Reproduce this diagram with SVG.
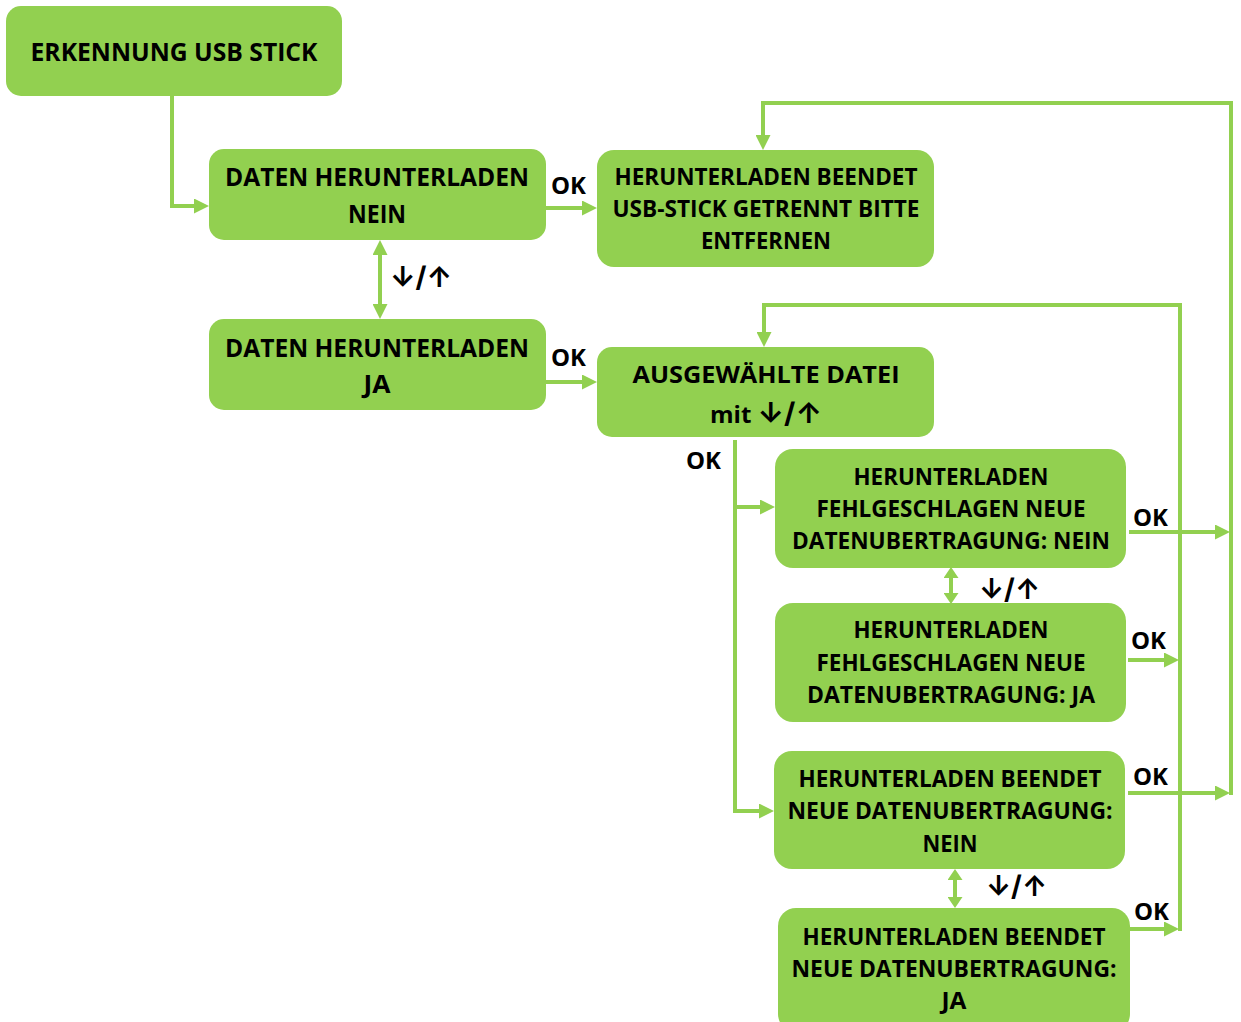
<svg xmlns="http://www.w3.org/2000/svg" width="1241" height="1022" viewBox="0 0 1241 1022">
<style>
.n{fill:#92D050}
.t{font-family:"Open Sans",Lato,"DejaVu Sans",sans-serif;font-weight:700;fill:#000;text-anchor:middle}
.b{font-size:25px}
.m{font-size:23px}
.ok{font-family:"Open Sans",Lato,sans-serif;font-weight:700;font-size:24px;fill:#000}
.ar{font-family:Inter,"DejaVu Sans",sans-serif;font-weight:700;font-size:28px;fill:#000}
.g{font-family:Inter,"DejaVu Sans",sans-serif;font-weight:700}
.c{fill:none;stroke:#92D050;stroke-width:4;stroke-linejoin:miter}
</style>
<defs>
<marker id="a" viewBox="0 0 15 15" refX="11" refY="7.5" markerWidth="15" markerHeight="15" markerUnits="userSpaceOnUse" orient="auto-start-reverse"><path d="M0,0L15,7.5L0,15z" fill="#92D050"/></marker>
<marker id="s" viewBox="0 0 11 15" refX="7" refY="7.5" markerWidth="11" markerHeight="15" markerUnits="userSpaceOnUse" orient="auto-start-reverse"><path d="M0,0L11,7.5L0,15z" fill="#92D050"/></marker>
</defs>
<rect width="1241" height="1022" fill="#fff"/>
<g id="connectors">
<path class="c" d="M172,96V206H205" marker-end="url(#a)"/>
<path class="c" d="M546,208H593" marker-end="url(#a)"/>
<path class="c" d="M380,244V315" marker-start="url(#a)" marker-end="url(#a)"/>
<path class="c" d="M546,382H593" marker-end="url(#a)"/>
<path class="c" d="M1231,795V103H763V146" marker-end="url(#a)"/>
<path class="c" d="M1129,532H1226" marker-end="url(#a)"/>
<path class="c" d="M1128,793H1226" marker-end="url(#a)"/>
<path class="c" d="M1180,931V305H764V343" marker-end="url(#a)"/>
<path class="c" d="M1128,660H1175" marker-end="url(#a)"/>
<path class="c" d="M1130,929H1175" marker-end="url(#a)"/>
<path class="c" d="M735,440V811H770" marker-end="url(#a)"/>
<path class="c" d="M735,507H771" marker-end="url(#a)"/>
<path class="c" d="M951,571V600" marker-start="url(#s)" marker-end="url(#s)"/>
<path class="c" d="M955,873V904" marker-start="url(#s)" marker-end="url(#s)"/>
<text class="ok" x="551" y="194" textLength="35" lengthAdjust="spacingAndGlyphs">OK</text>
<text class="ok" x="551" y="366" textLength="35" lengthAdjust="spacingAndGlyphs">OK</text>
<text class="ok" x="686" y="469" textLength="35" lengthAdjust="spacingAndGlyphs">OK</text>
<text class="ok" x="1133" y="526" textLength="35" lengthAdjust="spacingAndGlyphs">OK</text>
<text class="ok" x="1131" y="649" textLength="35" lengthAdjust="spacingAndGlyphs">OK</text>
<text class="ok" x="1133" y="785" textLength="35" lengthAdjust="spacingAndGlyphs">OK</text>
<text class="ok" x="1134" y="920" textLength="35" lengthAdjust="spacingAndGlyphs">OK</text>
<text class="ar" x="390" y="287" textLength="62" lengthAdjust="spacingAndGlyphs">↓/↑</text>
<text class="ar" x="979" y="599" textLength="61" lengthAdjust="spacingAndGlyphs">↓/↑</text>
<text class="ar" x="986" y="896" textLength="61" lengthAdjust="spacingAndGlyphs">↓/↑</text>
</g>
<g id="n1">
<rect class="n" x="6" y="6" width="336" height="90" rx="15"/>
<text class="t b" x="174" y="61" textLength="287" lengthAdjust="spacingAndGlyphs">ERKENNUNG USB STICK</text>
</g>
<g id="n2">
<rect class="n" x="209" y="149" width="337" height="91" rx="15"/>
<text class="t b" x="377" y="186" textLength="304" lengthAdjust="spacingAndGlyphs">DATEN HERUNTERLADEN</text>
<text class="t b" x="377" y="223" textLength="58" lengthAdjust="spacingAndGlyphs">NEIN</text>
</g>
<g id="n3">
<rect class="n" x="209" y="319" width="337" height="91" rx="15"/>
<text class="t b" x="377" y="357" textLength="304" lengthAdjust="spacingAndGlyphs">DATEN HERUNTERLADEN</text>
<text class="t b" x="377" y="393" textLength="27" lengthAdjust="spacingAndGlyphs">JA</text>
</g>
<g id="n4">
<rect class="n" x="597" y="150" width="337" height="117" rx="17"/>
<text class="t m" x="766" y="185" textLength="303" lengthAdjust="spacingAndGlyphs">HERUNTERLADEN BEENDET</text>
<text class="t m" x="766" y="217" textLength="307" lengthAdjust="spacingAndGlyphs">USB-STICK GETRENNT BITTE</text>
<text class="t m" x="766" y="249" textLength="130" lengthAdjust="spacingAndGlyphs">ENTFERNEN</text>
</g>
<g id="n5">
<rect class="n" x="597" y="347" width="337" height="90" rx="15"/>
<text class="t m" x="766" y="383" textLength="267" lengthAdjust="spacingAndGlyphs">AUSGEWÄHLTE DATEI</text>
<text class="t m" x="766" y="423" textLength="112" lengthAdjust="spacingAndGlyphs">mit <tspan class="g" font-size="28">↓/↑</tspan></text>
</g>
<g id="n6">
<rect class="n" x="775" y="449" width="351" height="119" rx="18"/>
<text class="t m" x="951" y="485" textLength="195" lengthAdjust="spacingAndGlyphs">HERUNTERLADEN</text>
<text class="t m" x="951" y="517" textLength="269" lengthAdjust="spacingAndGlyphs">FEHLGESCHLAGEN NEUE</text>
<text class="t m" x="951" y="549" textLength="318" lengthAdjust="spacingAndGlyphs">DATENUBERTRAGUNG: NEIN</text>
</g>
<g id="n7">
<rect class="n" x="775" y="603" width="351" height="119" rx="18"/>
<text class="t m" x="951" y="638" textLength="195" lengthAdjust="spacingAndGlyphs">HERUNTERLADEN</text>
<text class="t m" x="951" y="671" textLength="269" lengthAdjust="spacingAndGlyphs">FEHLGESCHLAGEN NEUE</text>
<text class="t m" x="951" y="703" textLength="288" lengthAdjust="spacingAndGlyphs">DATENUBERTRAGUNG: JA</text>
</g>
<g id="n8">
<rect class="n" x="774" y="751" width="351" height="118" rx="18"/>
<text class="t m" x="950" y="787" textLength="303" lengthAdjust="spacingAndGlyphs">HERUNTERLADEN BEENDET</text>
<text class="t m" x="950" y="819" textLength="325" lengthAdjust="spacingAndGlyphs">NEUE DATENUBERTRAGUNG:</text>
<text class="t m" x="950" y="852" textLength="55" lengthAdjust="spacingAndGlyphs">NEIN</text>
</g>
<g id="n9">
<rect class="n" x="778" y="908" width="352" height="124" rx="18"/>
<text class="t m" x="954" y="945" textLength="303" lengthAdjust="spacingAndGlyphs">HERUNTERLADEN BEENDET</text>
<text class="t m" x="954" y="977" textLength="325" lengthAdjust="spacingAndGlyphs">NEUE DATENUBERTRAGUNG:</text>
<text class="t m" x="954" y="1009" textLength="25" lengthAdjust="spacingAndGlyphs">JA</text>
</g>
</svg>
